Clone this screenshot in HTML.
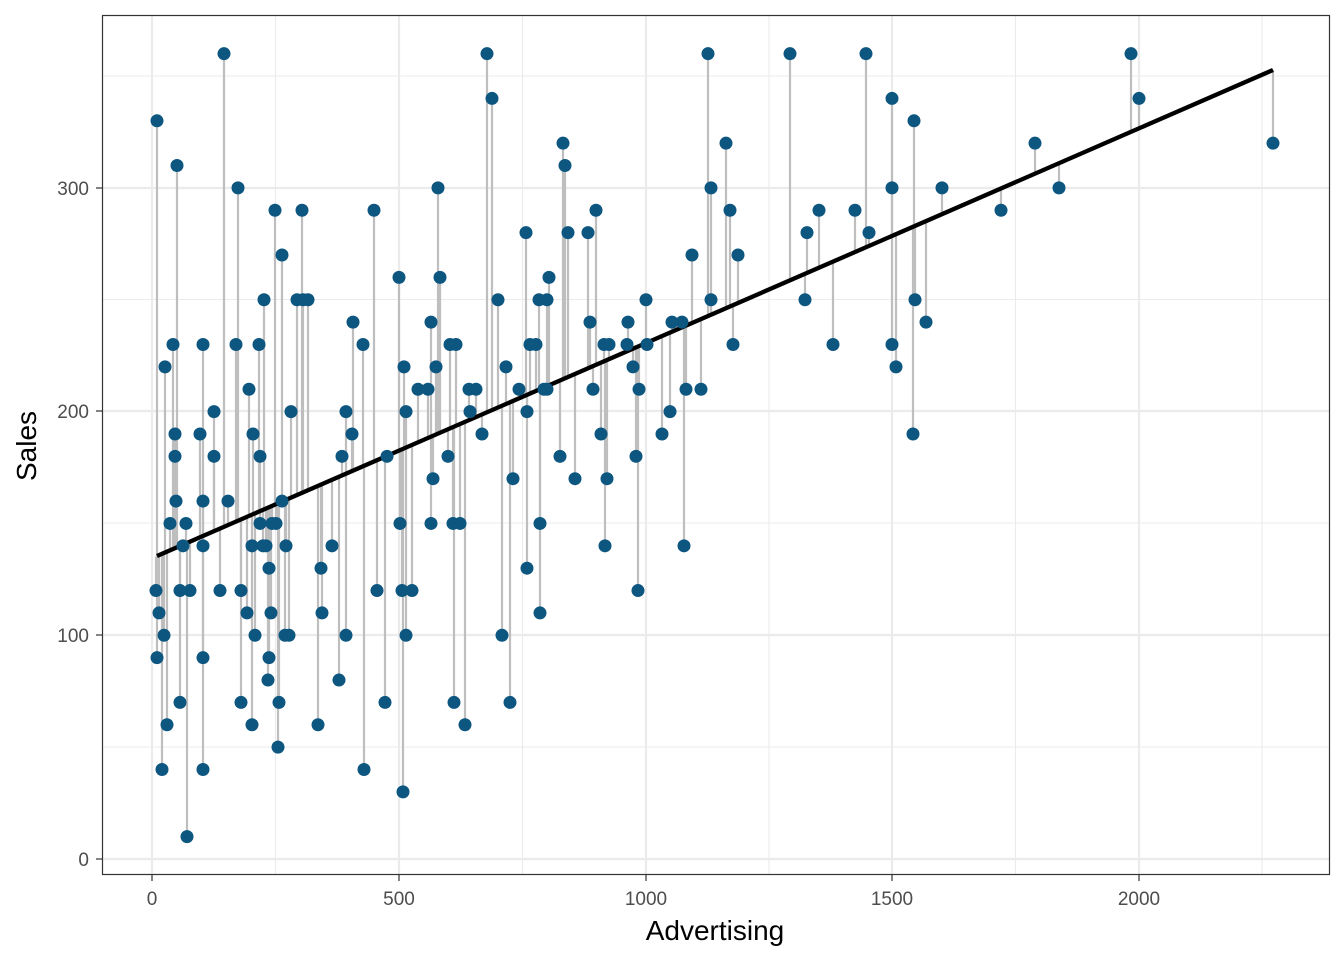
<!DOCTYPE html>
<html><head><meta charset="utf-8">
<style>
html,body{margin:0;padding:0;background:#fff;}
svg{display:block;font-family:"Liberation Sans",Arial,sans-serif;}
</style></head>
<body>
<svg id="s" width="1344" height="960" xmlns="http://www.w3.org/2000/svg">
<rect width="1344" height="960" fill="#fff"/>
<g id="grid"></g>
<g id="segs"></g>
<line x1="157" y1="556" x2="1273" y2="70" stroke="#000" stroke-width="4.3"/>
<g id="pts"></g>
<rect x="102.5" y="15.5" width="1227" height="859" fill="none" stroke="#333" stroke-width="1.2"/>
<g font-size="19" fill="#4d4d4d" text-anchor="end">
<text x="89" y="866">0</text>
<text x="89" y="642">100</text>
<text x="89" y="418">200</text>
<text x="89" y="195">300</text>
</g>
<g font-size="19" fill="#4d4d4d" text-anchor="middle">
<text x="152" y="905">0</text>
<text x="399" y="905">500</text>
<text x="646" y="905">1000</text>
<text x="892" y="905">1500</text>
<text x="1139" y="905">2000</text>
</g>
<g stroke="#333" stroke-width="1.2" id="ticks"></g>
<text x="715" y="940" font-size="28" text-anchor="middle" fill="#000">Advertising</text>
<text x="0" y="0" font-size="28" text-anchor="middle" fill="#000" transform="translate(36,446) rotate(-90)">Sales</text>
</svg>
<script>
var NS="http://www.w3.org/2000/svg";
function el(p,t,a){var e=document.createElementNS(NS,t);for(var k in a)e.setAttribute(k,a[k]);document.getElementById(p).appendChild(e);return e;}
var xs=[152,399,646,892,1139],xm=[275.5,522.5,769,1015.5,1262];
var ys=[859,635,411,188],ym=[747,523,299.5,76];
xm.forEach(function(x){el("grid","line",{x1:x,x2:x,y1:15,y2:875,stroke:"#ebebeb","stroke-width":1.1});});
ym.forEach(function(y){el("grid","line",{x1:102,x2:1330,y1:y,y2:y,stroke:"#ebebeb","stroke-width":1.1});});
xs.forEach(function(x){el("grid","line",{x1:x,x2:x,y1:15,y2:875,stroke:"#ebebeb","stroke-width":2.2});el("ticks","line",{x1:x,x2:x,y1:875,y2:881});});
ys.forEach(function(y){el("grid","line",{x1:102,x2:1330,y1:y,y2:y,stroke:"#ebebeb","stroke-width":2.2});el("ticks","line",{x1:96,x2:102,y1:y,y2:y});});
var d=[157,330,156,120,157,90,159,110,162,40,164,100,165,220,167,60,170,150,173,230,175,180,175,190,176,160,177,310,180,120,180,70,183,140,186,150,187,10,190,120,200,190,203,230,203,160,203,140,203,90,203,40,214,200,214,180,220,120,224,360,228,160,236,230,238,300,241,70,241,120,247,110,249,210,252,60,252,140,253,190,255,100,259,230,260,180,260,150,263,140,264,250,266,140,268,80,269,90,269,130,271,110,272,150,275,290,276,150,278,50,279,70,282,160,282,270,285,100,286,140,289,100,291,200,297,250,302,290,303,250,308,250,318,60,321,130,322,110,332,140,339,80,342,180,346,100,346,200,352,190,353,240,363,230,364,40,374,290,377,120,385,70,387,180,399,260,400,150,402,120,403,30,404,220,406,100,406,200,412,120,418,210,428,210,431,240,431,150,433,170,436,220,438,300,440,260,448,180,450,230,453,150,454,70,456,230,460,150,465,60,469,210,470,200,476,210,482,190,487,360,492,340,498,250,502,100,506,220,510,70,513,170,519,210,526,280,527,200,527,130,530,230,536,230,539,250,540,150,540,110,544,210,547,210,547,250,549,260,560,180,563,320,565,310,568,280,575,170,588,280,590,240,593,210,596,290,601,190,604,230,605,140,607,170,609,230,627,230,628,240,633,220,636,180,638,120,639,210,646,250,647,230,662,190,670,200,672,240,682,240,684,140,686,210,692,270,701,210,708,360,711,300,711,250,726,320,730,290,733,230,738,270,790,360,805,250,807,280,819,290,833,230,855,290,866,360,869,280,892,340,892,300,892,230,896,220,913,190,914,330,915,250,926,240,942,300,1001,290,1035,320,1059,300,1131,360,1139,340,1273,320];
for(var i=0;i<d.length;i+=2){var x=d[i],y=859-d[i+1]*2.237,yl=556-(x-157)*0.4355;
el("segs","line",{x1:x,x2:x,y1:y,y2:yl,stroke:"#bebebe","stroke-width":2.2});
el("pts","circle",{cx:x,cy:y,r:6.5,fill:"#0d5680"});}
</script>
</body></html>
